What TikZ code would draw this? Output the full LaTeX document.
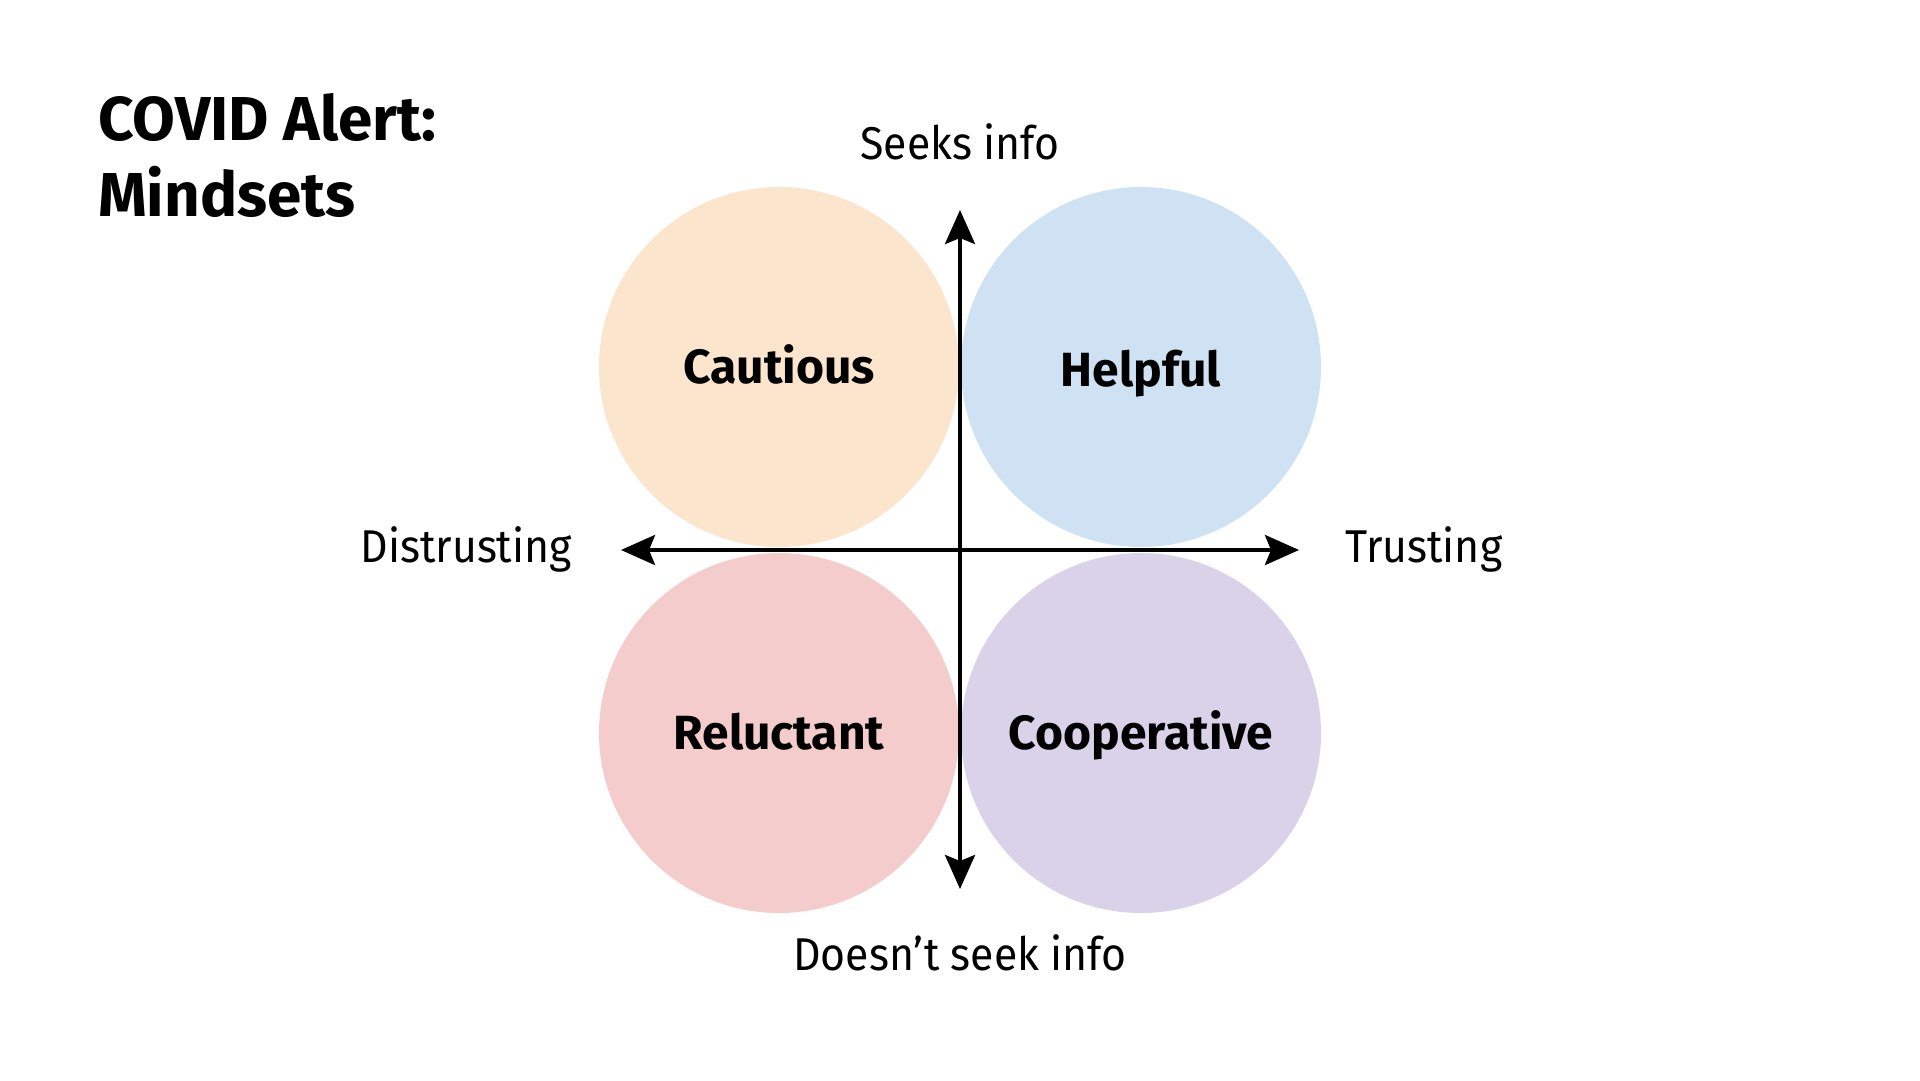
\documentclass[tikz,border=0pt]{standalone}
\usepackage{fontspec}
\setmainfont{Fira Sans}
\newfontfamily\labelfont[FakeStretch=0.93]{Fira Sans}
\usetikzlibrary{arrows.meta}
\definecolor{cPeach}{HTML}{FCE5CD}
\definecolor{cBlue}{HTML}{CFE2F3}
\definecolor{cRed}{HTML}{F4CCCC}
\definecolor{cPurple}{HTML}{D9D2E9}
\tikzset{
  bubble/.style={circle, minimum size=360pt, inner sep=0pt, text height=33pt, text depth=0pt,
    font=\fontsize{48}{56}\selectfont\bfseries},
  axislabel/.style={inner sep=0pt, font=\labelfont\fontsize{46}{54}\selectfont},
  titletext/.style={inner sep=0pt, anchor=base west, font=\fontsize{62}{70}\selectfont\bfseries},
  axisline/.style={line width=4pt, {Stealth[length=34pt,width=30pt,inset=6pt]}-{Stealth[length=34pt,width=30pt,inset=6pt]}}
}
\begin{document}
\begin{tikzpicture}[x=1pt,y=-1pt]
\useasboundingbox (0,0) rectangle (1920,1080);
% circles
\node[bubble, fill=cPeach] (cautious) at (779,367) {Cautious};
\node[bubble, fill=cBlue, text height=38pt] (helpful) at (1141,367) {Helpful};
\node[bubble, fill=cRed] (reluctant) at (779,733) {Reluctant};
\node[bubble, fill=cPurple] (cooperative) at (1141,733) {Cooperative};
% axes
\coordinate (top) at (960,210);
\coordinate (bot) at (960,889);
\coordinate (lft) at (621,550);
\coordinate (rgt) at (1299,550);
\draw[axisline] (bot) -- (top);
\draw[axisline] (lft) -- (rgt);
% axis labels
\node[axislabel, anchor=base] (seeks) at (960,159) {Seeks info};
\node[axislabel, anchor=base] (noseek) at (960,970) {Doesn’t seek info};
\node[axislabel, anchor=base east] (distrust) at (572,562) {Distrusting};
\node[axislabel, anchor=base west] (trust) at (1345,562) {Trusting};
% title
\node[titletext] (title1) at (98,140) {COVID Alert:};
\node[titletext] (title2) at (98,216) {Mindsets};
\end{tikzpicture}
\end{document}
